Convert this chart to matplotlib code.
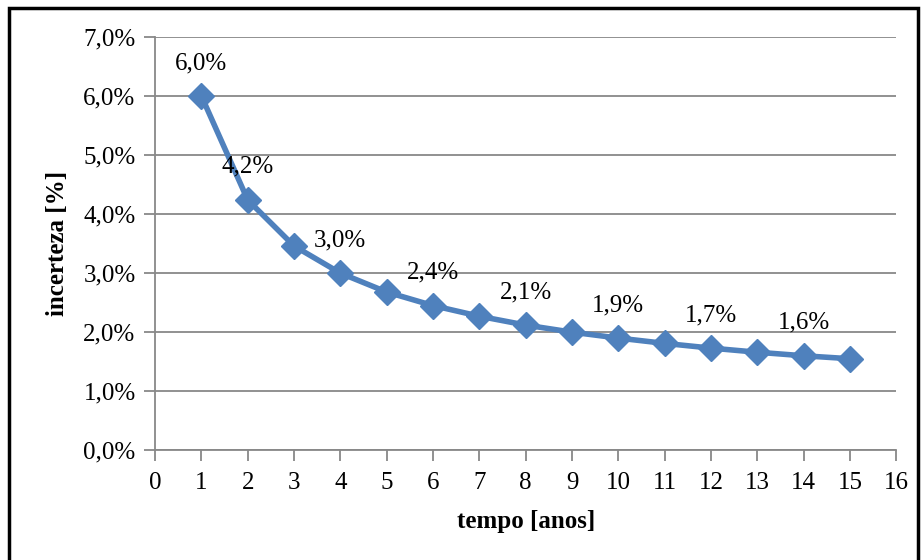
import matplotlib
matplotlib.use("Agg")
import matplotlib.pyplot as plt
from matplotlib.patches import Rectangle

anos = [1, 2, 3, 4, 5, 6, 7, 8, 9, 10, 11, 12, 13, 14, 15]
incerteza = [6.0, 4.24, 3.46, 3.0, 2.68, 2.45, 2.27, 2.12, 2.0, 1.90, 1.81, 1.73, 1.66, 1.60, 1.55]
rotulo_anos = [1, 2, 4, 6, 8, 10, 12, 14]
rotulos = ["6,0%", "4,2%", "3,0%", "2,4%", "2,1%", "1,9%", "1,7%", "1,6%"]
yticks = [0, 1, 2, 3, 4, 5, 6, 7]
ytick_labels = ["0,0%", "1,0%", "2,0%", "3,0%", "4,0%", "5,0%", "6,0%", "7,0%"]
xticks = list(range(0, 17))

plt.rcParams['font.family'] = ['Liberation Serif', 'DejaVu Serif']

fig = plt.figure(figsize=(9.23, 5.6), dpi=100)
ax = fig.add_axes([0.168, 0.196, 0.803, 0.738])

color = '#4F81BD'
ax.plot(anos, incerteza, color=color, lw=4, marker='D', markersize=13, zorder=3)

for a, r in zip(rotulo_anos, rotulos):
    y = incerteza[anos.index(a)]
    ax.annotate(r, (a, y), xytext=(0, 33), textcoords='offset pixels',
                ha='center', va='center', fontsize=18, color='black', zorder=4)

ax.set_xlim(0, 16)
ax.set_ylim(0, 7)
ax.set_xticks(xticks)
ax.set_xticklabels([str(x) for x in xticks], fontsize=18)
ax.set_yticks(yticks)
ax.set_yticklabels(ytick_labels, fontsize=18)
ax.grid(axis='y', color='#888888', lw=1.3)
ax.set_axisbelow(True)
for s in ['top', 'right']:
    ax.spines[s].set_visible(False)
for s in ['left', 'bottom']:
    ax.spines[s].set_color('#888888')
    ax.spines[s].set_linewidth(1.3)
ax.tick_params(axis='both', direction='out', length=8, color='#888888', width=1.3)
ax.tick_params(axis='x', pad=8)
ax.tick_params(axis='y', pad=6)

ax.set_xlabel('tempo [anos]', fontsize=18, fontweight='bold', labelpad=11)
ax.set_ylabel('incerteza [%]', fontsize=18, fontweight='bold', labelpad=10)

fig.patches.append(Rectangle((0.0095, -0.05), 0.985, 1.035, transform=fig.transFigure,
                             fill=False, edgecolor='black', lw=2.5, zorder=10))

fig.savefig('out.png', dpi=100)
